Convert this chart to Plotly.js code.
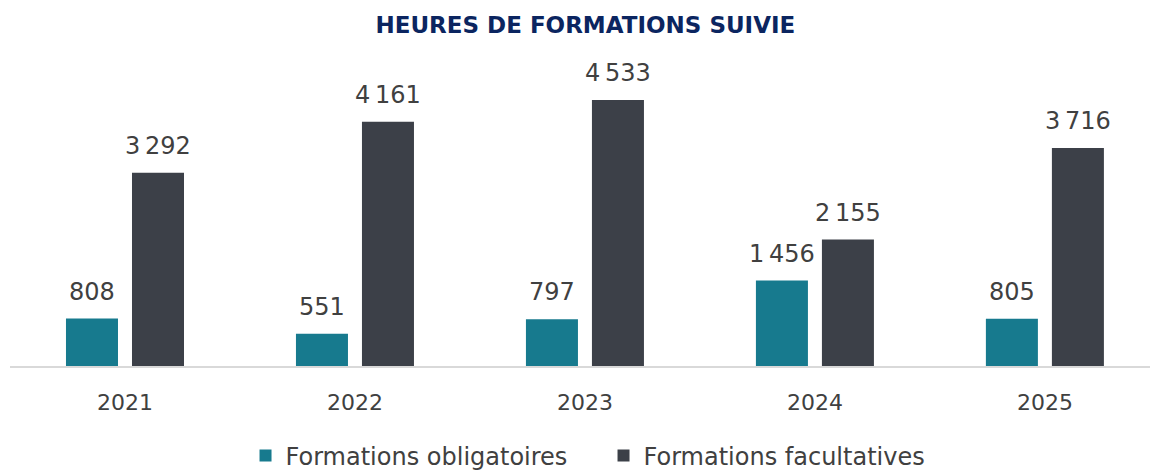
<!DOCTYPE html>
<html>
<head>
<meta charset="utf-8">
<script src="https://cdn.plot.ly/plotly-3.0.1.min.js"></script>
<style>html,body{margin:0;padding:0;background:#fff;}#chart{width:1150px;height:471px;}</style>
</head>
<body>
<div id="chart"></div>
<script>
const years = ['2021', '2022', '2023', '2024', '2025'];
const obligatoires = [808, 551, 797, 1456, 805];
const facultatives = [3292, 4161, 4533, 2155, 3716];
const seriesNames = ['Formations obligatoires', 'Formations facultatives'];
const chartTitle = 'HEURES DE FORMATIONS SUIVIE';

const colors = ['#177a8e', '#3c4048'];
const textColor = '#404040';
const numFont = 'DejaVu Sans';

function fmt(v) {
  return String(v).replace(/\B(?=(\d{3})+(?!\d))/g, '\u2009');
}

const traces = [
  {type: 'bar', name: seriesNames[0], x: years, y: obligatoires, marker: {color: colors[0]}, hoverinfo: 'skip'},
  {type: 'bar', name: seriesNames[1], x: years, y: facultatives, marker: {color: colors[1]}, hoverinfo: 'skip'}
];

const annotations = [];
[obligatoires, facultatives].forEach((arr, si) => {
  arr.forEach((v, i) => {
    annotations.push({
      x: i, y: v, xref: 'x', yref: 'y',
      text: fmt(v), showarrow: false,
      xshift: si === 0 ? -33 : 33, yanchor: 'bottom', yshift: 11,
      font: {family: numFont, size: 24, color: textColor}
    });
  });
});

const layout = {
  width: 1150, height: 471,
  margin: {l: 10, r: 0, t: 60, b: 105},
  paper_bgcolor: '#ffffff', plot_bgcolor: '#ffffff',
  title: {text: '<b>' + chartTitle + '</b>', x: 0.509, xref: 'container', xanchor: 'center',
          y: 0.948, yref: 'container', yanchor: 'middle',
          font: {family: 'DejaVu Sans', size: 23, color: '#0b2560'}},
  barmode: 'group', bargap: 0.426, bargroupgap: 0.212,
  xaxis: {type: 'category', range: [-0.5, 4.457], showline: true, linecolor: '#d9d9d9', linewidth: 2,
          showgrid: false, zeroline: false, ticks: '', ticklabelstandoff: 16,
          tickfont: {family: numFont, size: 22, color: textColor}},
  yaxis: {range: [0, 5215], visible: false, showgrid: false, zeroline: false},
  showlegend: true,
  legend: {orientation: 'h', x: 0.5248, xref: 'container', xanchor: 'center', y: 0.032, yref: 'container', yanchor: 'middle',
           font: {family: numFont, size: 24, color: textColor}, itemwidth: 30, traceorder: 'normal',
           entrywidth: 313, entrywidthmode: 'pixels'},
  annotations: annotations
};

Plotly.newPlot('chart', traces, layout, {displayModeBar: false, staticPlot: true});
</script>
</body>
</html>
